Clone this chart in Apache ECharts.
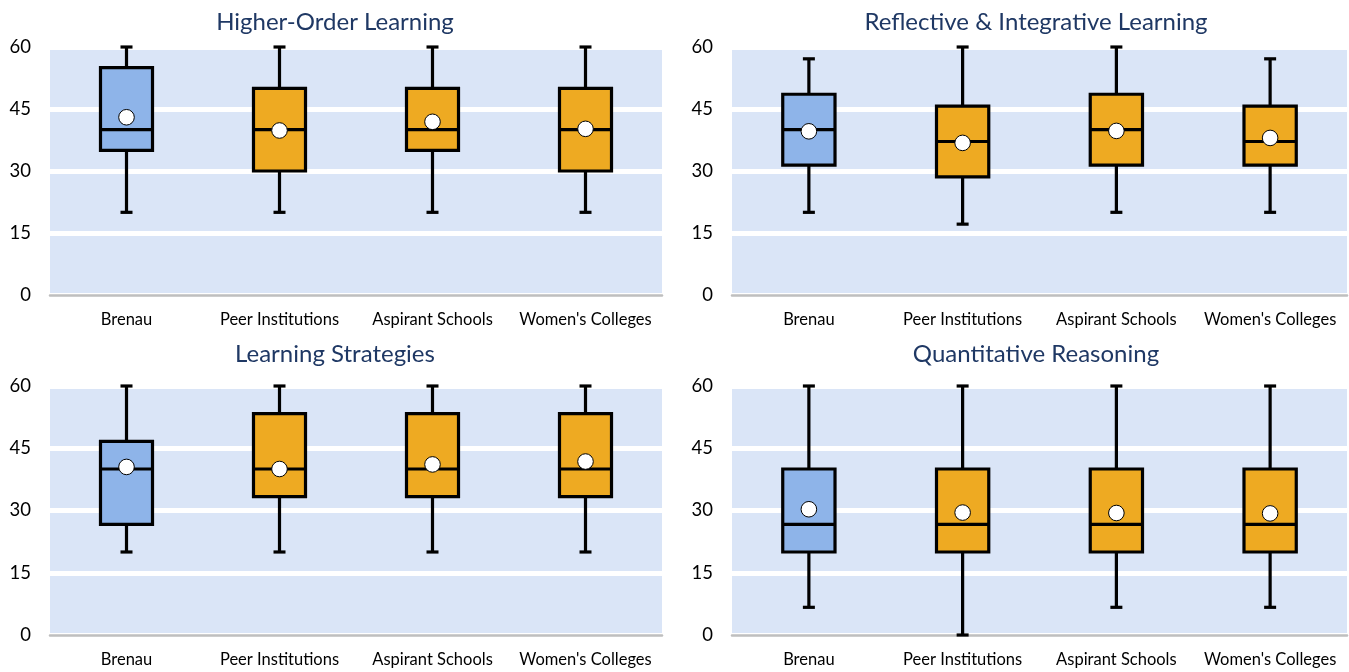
<!DOCTYPE html>
<html>
<head>
<meta charset="utf-8">
<script src="https://cdn.jsdelivr.net/npm/echarts@6/dist/echarts.min.js"></script>
<style>
html,body{margin:0;padding:0;background:#fff;}
#c{width:1349px;height:672px;}
</style>
</head>
<body>
<div id="c"></div>
<script>
// ---- data ----
const categories = ['Brenau', 'Peer Institutions', 'Aspirant Schools', "Women's Colleges"];
const panelTitles = ['Higher-Order Learning', 'Reflective & Integrative Learning', 'Learning Strategies', 'Quantitative Reasoning'];
const yTicks = [0, 15, 30, 45, 60];

// each row: [min, q1, median, q3, max]
const higherOrderBox = [[20, 35, 40, 55, 60], [20, 30, 40, 50, 60], [20, 35, 40, 50, 60], [20, 30, 40, 50, 60]];
const higherOrderMean = [43.0, 39.8, 41.9, 40.2];

const reflectiveBox = [[20, 31.43, 40, 48.57, 57.14], [17.14, 28.57, 37.14, 45.71, 60], [20, 31.43, 40, 48.57, 60], [20, 31.43, 37.14, 45.71, 57.14]];
const reflectiveMean = [39.6, 36.8, 39.7, 38.0];

const strategiesBox = [[20, 26.67, 40, 46.67, 60], [20, 33.33, 40, 53.33, 60], [20, 33.33, 40, 53.33, 60], [20, 33.33, 40, 53.33, 60]];
const strategiesMean = [40.5, 40.0, 41.1, 41.8];

const quantBox = [[6.67, 20, 26.67, 40, 60], [0, 20, 26.67, 40, 60], [6.67, 20, 26.67, 40, 60], [6.67, 20, 26.67, 40, 60]];
const quantMean = [30.3, 29.5, 29.4, 29.3];

// ---- styling ----
const FONT = 'Lato, "Open Sans", sans-serif';
const BLUE = '#8eb4e9';
const ORANGE = '#eeaa22';
const BG = '#dae5f7';

const panels = [
  { box: higherOrderBox, mean: higherOrderMean, grid: { left: 50, width: 612, top: 47, height: 248 }, title: { x: 330, y: 5 } },
  { box: reflectiveBox, mean: reflectiveMean, grid: { left: 732, width: 615, top: 47, height: 248 }, title: { x: 1031, y: 5 } },
  { box: strategiesBox, mean: strategiesMean, grid: { left: 50, width: 612, top: 386, height: 249 }, title: { x: 330, y: 337 } },
  { box: quantBox, mean: quantMean, grid: { left: 732, width: 615, top: 386, height: 249 }, title: { x: 1031, y: 337 } }
];

const chart = echarts.init(document.getElementById('c'), null, { renderer: 'canvas' });

function renderItem(params, api) {
  const i = api.value(0);
  const vMin = api.value(1), q1 = api.value(2), med = api.value(3), q3 = api.value(4), vMax = api.value(5), mean = api.value(6);
  const pMin = api.coord([i, vMin]);
  const pQ1 = api.coord([i, q1]);
  const pMed = api.coord([i, med]);
  const pQ3 = api.coord([i, q3]);
  const pMax = api.coord([i, vMax]);
  const pMean = api.coord([i, mean]);
  const cx = pMed[0];
  const bandW = api.size([1, 0])[0];
  const half = bandW * 0.17;
  const cap = 6;
  const fill = i === 0 ? BLUE : ORANGE;
  const line = { stroke: '#000', lineWidth: 3.2 };
  return {
    type: 'group',
    children: [
      { type: 'line', shape: { x1: cx, y1: pMax[1], x2: cx, y2: pQ3[1] }, style: line },
      { type: 'line', shape: { x1: cx, y1: pQ1[1], x2: cx, y2: pMin[1] }, style: line },
      { type: 'line', shape: { x1: cx - cap, y1: pMax[1], x2: cx + cap, y2: pMax[1] }, style: line },
      { type: 'line', shape: { x1: cx - cap, y1: pMin[1], x2: cx + cap, y2: pMin[1] }, style: line },
      { type: 'rect', shape: { x: cx - half, y: pQ3[1], width: half * 2, height: pQ1[1] - pQ3[1] }, style: { fill: fill, stroke: '#000', lineWidth: 3.2 } },
      { type: 'line', shape: { x1: cx - half, y1: pMed[1], x2: cx + half, y2: pMed[1] }, style: line },
      { type: 'circle', shape: { cx: cx, cy: pMean[1], r: 7.8 }, style: { fill: '#fff', stroke: '#000', lineWidth: 1 } }
    ]
  };
}

const option = {
  backgroundColor: '#fff',
  animation: false,
  title: panels.map((p, k) => ({
    text: panelTitles[k],
    left: p.title.x,
    top: p.title.y,
    textAlign: 'center',
    textStyle: { fontFamily: FONT, fontSize: 24, fontWeight: 'normal', color: '#1f3864' }
  })),
  grid: panels.map(p => ({
    left: p.grid.left, width: p.grid.width, top: p.grid.top, height: p.grid.height,
    show: true, backgroundColor: BG, borderWidth: 0, containLabel: false
  })),
  xAxis: panels.map((p, k) => ({
    type: 'category',
    gridIndex: k,
    data: categories,
    boundaryGap: true,
    axisLine: { show: true, lineStyle: { color: '#bfbfbf', width: 2.5 } },
    axisTick: { show: false },
    axisLabel: { fontFamily: FONT, fontSize: 16.5, color: '#000', margin: 16, interval: 0 },
    splitLine: { show: false },
    z: 3
  })),
  yAxis: panels.map((p, k) => ({
    type: 'value',
    gridIndex: k,
    min: yTicks[0],
    max: yTicks[yTicks.length - 1],
    interval: yTicks[1] - yTicks[0],
    axisLine: { show: false },
    axisTick: { show: false },
    axisLabel: { fontFamily: FONT, fontSize: 18.5, color: '#000', margin: 19 },
    splitLine: { show: true, lineStyle: { color: '#fff', width: 5 } }
  })),
  series: panels.map((p, k) => ({
    type: 'custom',
    xAxisIndex: k,
    yAxisIndex: k,
    renderItem: renderItem,
    encode: { x: 0, y: [1, 2, 3, 4, 5, 6] },
    data: p.box.map((row, i) => [i, row[0], row[1], row[2], row[3], row[4], p.mean[i]]),
    z: 5,
    clip: false
  }))
};

chart.setOption(option);
</script>
</body>
</html>
